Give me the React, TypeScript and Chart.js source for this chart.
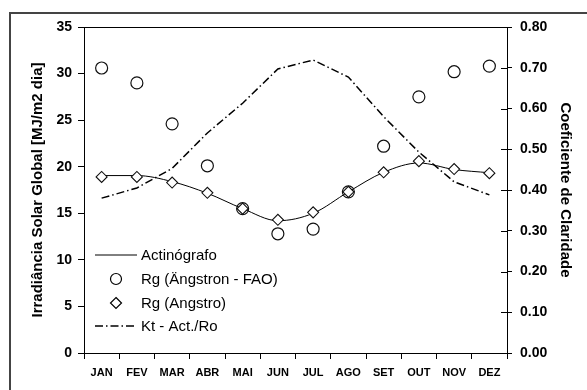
import React, { useEffect, useRef } from "react";
import { Chart, registerables } from "chart.js";

Chart.register(...registerables);

const months = ["JAN", "FEV", "MAR", "ABR", "MAI", "JUN", "JUL", "AGO", "SET", "OUT", "NOV", "DEZ"];
const actinografo = [19.05, 19.05, 18.4, 17.15, 15.5, 14.2, 15.0, 17.3, 19.4, 20.4, 19.7, 19.35];
const rgFao = [30.6, 29.0, 24.6, 20.1, 15.5, 12.8, 13.3, 17.3, 22.2, 27.5, 30.2, 30.8];
const rgAngstro = [18.9, 18.9, 18.3, 17.2, 15.5, 14.3, 15.1, 17.3, 19.4, 20.6, 19.75, 19.3];
const ktValues = [0.38, 0.405, 0.453, 0.54, 0.613, 0.697, 0.719, 0.677, 0.58, 0.493, 0.42, 0.388];
const leftTitle = "Irradiância Solar Global [MJ/m2 dia]";
const rightTitle = "Coeficiente de Claridade";
const seriesLabels = ["Actinógrafo", "Rg (Ängstron - FAO)", "Rg (Angstro)", "Kt - Act./Ro"];

const FONT = '"Liberation Sans", Arial, sans-serif';
const KT_DASH = [8, 3, 1.5, 3];

const decor = {
  id: "decor",
  afterDraw(chart: any) {
    const { ctx, chartArea } = chart;
    const { left, right, top } = chartArea;
    ctx.save();
    ctx.strokeStyle = "#000";
    ctx.lineWidth = 1;
    ctx.beginPath();
    ctx.moveTo(left, Math.round(top) + 0.5);
    ctx.lineTo(right, Math.round(top) + 0.5);
    ctx.stroke();
    const y1 = chart.scales.y1;
    y1.ticks.forEach((_t: any, i: number) => {
      const y = Math.round(y1.getPixelForTick(i)) + 0.5;
      ctx.beginPath();
      ctx.moveTo(right - 6, y);
      ctx.lineTo(right, y);
      ctx.stroke();
    });
    ctx.strokeStyle = "#444";
    ctx.lineWidth = 2;
    ctx.strokeRect(10, 13, 700, 500);
    const x0 = 95, x1 = 137, xm = 116, tx = 141;
    const rows = [255, 279, 303, 326];
    ctx.font = `15px ${FONT}`;
    ctx.fillStyle = "#000";
    ctx.textBaseline = "middle";
    ctx.textAlign = "left";
    ctx.strokeStyle = "#000";
    ctx.lineWidth = 1;
    ctx.beginPath();
    ctx.moveTo(x0, rows[0]);
    ctx.lineTo(x1, rows[0]);
    ctx.stroke();
    ctx.lineWidth = 1.2;
    ctx.beginPath();
    ctx.arc(xm, rows[1], 5.5, 0, Math.PI * 2);
    ctx.stroke();
    ctx.beginPath();
    ctx.moveTo(xm, rows[2] - 5.5);
    ctx.lineTo(xm + 5.5, rows[2]);
    ctx.lineTo(xm, rows[2] + 5.5);
    ctx.lineTo(xm - 5.5, rows[2]);
    ctx.closePath();
    ctx.fillStyle = "#fff";
    ctx.fill();
    ctx.stroke();
    ctx.lineWidth = 1.5;
    ctx.setLineDash(KT_DASH);
    ctx.beginPath();
    ctx.moveTo(x0, rows[3]);
    ctx.lineTo(x1, rows[3]);
    ctx.stroke();
    ctx.setLineDash([]);
    ctx.fillStyle = "#000";
    seriesLabels.forEach((lab, i) => ctx.fillText(lab, tx, rows[i] + 1));
    ctx.restore();
  },
};

export default function App() {
  const ref = useRef<HTMLCanvasElement>(null);
  useEffect(() => {
    if (!ref.current) return;
    const chart = new Chart(ref.current, {
      type: "line",
      data: {
        labels: months,
        datasets: [
          {
            label: seriesLabels[0],
            data: actinografo,
            borderColor: "#000",
            borderWidth: 1,
            pointRadius: 0,
            tension: 0.4,
            cubicInterpolationMode: "monotone",
            yAxisID: "y",
            order: 3,
          },
          {
            label: seriesLabels[1],
            data: rgFao,
            showLine: false,
            pointStyle: "circle",
            pointRadius: 6,
            pointBorderWidth: 1.2,
            pointBorderColor: "#111",
            pointBackgroundColor: "rgba(0,0,0,0)",
            borderColor: "#111",
            yAxisID: "y",
            order: 2,
          },
          {
            label: seriesLabels[2],
            data: rgAngstro,
            showLine: false,
            pointStyle: "rectRot",
            pointRadius: 5.5,
            pointBorderWidth: 1.1,
            pointBorderColor: "#111",
            pointBackgroundColor: "#fff",
            borderColor: "#111",
            yAxisID: "y",
            order: 1,
          },
          {
            label: seriesLabels[3],
            data: ktValues,
            borderColor: "#000",
            borderWidth: 1.5,
            borderDash: KT_DASH,
            pointRadius: 0,
            tension: 0,
            yAxisID: "y1",
            order: 4,
          },
        ],
      } as any,
      options: {
        animation: false,
        responsive: false,
        events: [],
        layout: { padding: { top: 27, left: 0, right: 0, bottom: 0 } },
        plugins: { legend: { display: false }, tooltip: { enabled: false } },
        scales: {
          x: {
            offset: true,
            grid: { display: true, drawOnChartArea: false, drawTicks: true, tickLength: 6, color: "#000", offset: true },
            border: { display: true, color: "#000", width: 1 },
            ticks: { color: "#000", font: { family: FONT, size: 11, weight: "bold" }, padding: 7, maxRotation: 0, autoSkip: false },
            afterFit: (s: any) => { s.height = 37; },
          },
          y: {
            position: "left",
            min: 0,
            max: 35,
            grid: { drawOnChartArea: false, drawTicks: true, tickLength: 6, color: "#000" },
            border: { display: true, color: "#000", width: 1 },
            ticks: { stepSize: 5, color: "#000", font: { family: FONT, size: 14, weight: "bold" }, padding: 6 },
            title: { display: true, text: leftTitle, color: "#000", font: { family: FONT, size: 15, weight: "bold" }, padding: { top: 29, bottom: 0 } },
            afterFit: (s: any) => { s.width = 84; },
          },
          y1: {
            position: "right",
            min: 0,
            max: 0.8,
            grid: { drawOnChartArea: false, drawTicks: true, tickLength: 5, color: "#000" },
            border: { display: true, color: "#000", width: 1 },
            ticks: { stepSize: 0.1, color: "#000", font: { family: FONT, size: 14, weight: "bold" }, padding: 8, callback: (v: any) => Number(v).toFixed(2) },
            title: { display: true, text: rightTitle, color: "#000", font: { family: FONT, size: 15, weight: "bold" }, padding: { top: 13, bottom: 0 } },
            afterFit: (s: any) => { s.width = 80; },
          },
        },
      } as any,
      plugins: [decor],
    });
    return () => chart.destroy();
  }, []);
  return (
    <div style={{ position: "fixed", left: 0, top: 0, width: 587, height: 390, background: "#fff" }}>
      <canvas ref={ref} width={587} height={390} style={{ display: "block" }} />
    </div>
  );
}
